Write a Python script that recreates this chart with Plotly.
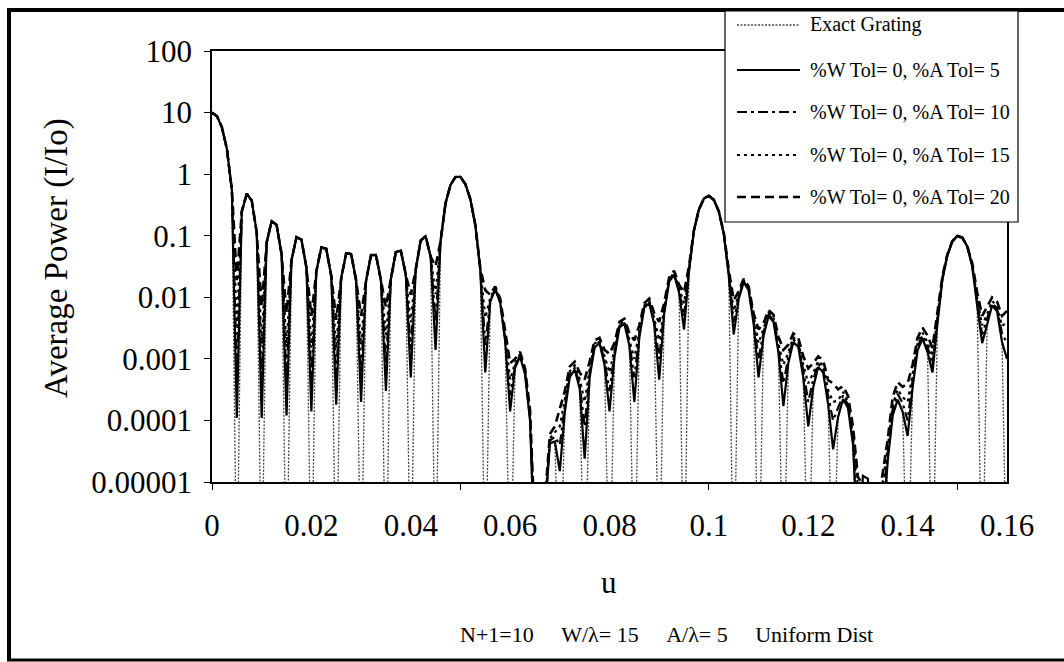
import plotly.graph_objects as go

# categories: u sampled every 0.001 from 0 to 0.16 (161 samples)
u = [round(i * 0.001, 3) for i in range(161)]

# values (values at exact nulls sit below the axis floor)
exact = [
    10, 8.76, 5.74, 2.56, 0.552, 1e-7,
    0.248, 0.481, 0.372, 0.113, 1e-7,
    0.0777, 0.173, 0.150, 0.0502, 1e-7,
    0.0400, 0.0947, 0.0864, 0.0304, 1e-7,
    0.0263, 0.0646, 0.0611, 0.0222, 1e-7,
    0.0205, 0.0519, 0.0505, 0.0189, 1e-7,
    0.0185, 0.0484, 0.0487, 0.0189, 1e-7,
    0.0199, 0.0543, 0.0573, 0.0234, 1e-7,
    0.0282, 0.0838, 0.0980, 0.0456, 1e-7,
    0.0813, 0.336, 0.668, 0.899, 0.901,
    0.687, 0.390, 0.149, 0.0273, 1e-7,
    0.00850, 0.0134, 0.00823, 0.00194, 1e-7,
    7.17e-4, 1.08e-3, 5.71e-4, 1.01e-4, 1e-7,
    4.94e-6, 2.92e-6, 4.24e-5, 4.55e-5, 1e-7,
    1.35e-4, 5.04e-4, 6.71e-4, 3.27e-4, 1e-7,
    4.90e-4, 1.53e-3, 1.80e-3, 8.01e-4, 1e-7,
    1.07e-3, 3.24e-3, 3.73e-3, 1.64e-3, 1e-7,
    2.21e-3, 6.78e-3, 8.00e-3, 3.65e-3, 1e-7,
    5.43e-3, 0.0179, 0.0233, 0.0120, 1e-7,
    0.0263, 0.121, 0.268, 0.402, 0.450,
    0.386, 0.247, 0.107, 0.0224, 1e-7,
    9.43e-3, 0.0176, 0.0130, 3.79e-3, 1e-7,
    2.35e-3, 4.94e-3, 4.02e-3, 1.26e-3, 1e-7,
    8.62e-4, 1.88e-3, 1.56e-3, 4.97e-4, 1e-7,
    3.42e-4, 7.35e-4, 5.99e-4, 1.84e-4, 1e-7,
    1.13e-4, 2.22e-4, 1.59e-4, 4.10e-5, 1e-7,
    1.26e-5, 1.13e-5, 7.4e-7, 1.2e-6, 1e-7,
    2.23e-5, 1.21e-4, 2.17e-4, 1.38e-4, 1e-7,
    3.40e-4, 1.37e-3, 2.13e-3, 1.29e-3, 1e-7,
    3.73e-3, 0.0194, 0.0481, 0.0805, 0.100,
    0.0947, 0.0666, 0.0317, 7.26e-3, 1e-7,
    3.62e-3, 7.35e-3, 5.92e-3, 1.88e-3, 1e-7,
]

tol5 = [
    10, 8.76, 5.74, 2.56, 0.552, 1.1e-4,
    0.248, 0.481, 0.372, 0.113, 1.1e-4,
    0.0777, 0.173, 0.150, 0.0502, 1.2e-4,
    0.0400, 0.0947, 0.0864, 0.0304, 1.4e-4,
    0.0263, 0.0646, 0.0611, 0.0222, 1.8e-4,
    0.0205, 0.0519, 0.0505, 0.0189, 2.0e-4,
    0.0185, 0.0484, 0.0487, 0.0189, 3.0e-4,
    0.0199, 0.0543, 0.0573, 0.0234, 5.0e-4,
    0.0282, 0.0838, 0.0980, 0.0456, 1.4e-3,
    0.0813, 0.336, 0.668, 0.899, 0.901,
    0.687, 0.390, 0.149, 0.0273, 6.0e-4,
    0.00850, 0.0134, 0.00823, 0.00194, 1.4e-4,
    7.17e-4, 1.08e-3, 5.71e-4, 1.01e-4, 5e-7,
    4.94e-6, 2.92e-6, 4.24e-5, 4.55e-5, 1.5e-5,
    1.35e-4, 5.04e-4, 6.71e-4, 3.27e-4, 2.4e-5,
    4.90e-4, 1.53e-3, 1.80e-3, 8.01e-4, 1.4e-4,
    1.07e-3, 3.24e-3, 3.73e-3, 1.64e-3, 2.0e-4,
    2.21e-3, 6.78e-3, 8.00e-3, 3.65e-3, 4.6e-4,
    5.43e-3, 0.0179, 0.0233, 0.0120, 3.0e-3,
    0.0263, 0.121, 0.268, 0.402, 0.450,
    0.386, 0.247, 0.107, 0.0224, 2.5e-3,
    9.43e-3, 0.0176, 0.0130, 3.79e-3, 5.0e-4,
    2.35e-3, 4.94e-3, 4.02e-3, 1.26e-3, 1.7e-4,
    8.62e-4, 1.88e-3, 1.56e-3, 4.97e-4, 8.0e-5,
    3.42e-4, 7.35e-4, 5.99e-4, 1.84e-4, 3.4e-5,
    1.13e-4, 2.22e-4, 1.59e-4, 4.10e-5, 1.0e-6,
    1.26e-5, 1.13e-5, 7.4e-7, 1.2e-6, 2.0e-6,
    2.23e-5, 1.21e-4, 2.17e-4, 1.38e-4, 5.6e-5,
    3.40e-4, 1.37e-3, 2.13e-3, 1.29e-3, 6.0e-4,
    3.73e-3, 0.0194, 0.0481, 0.0805, 0.100,
    0.0947, 0.0666, 0.0317, 7.26e-3, 1.8e-3,
    3.62e-3, 7.35e-3, 5.92e-3, 1.88e-3, 1.0e-3,
]

tol10 = [
    10, 8.76, 5.74, 2.56, 0.552, 6.1e-4,
    0.248, 0.481, 0.372, 0.113, 4.4e-4,
    0.0777, 0.173, 0.150, 0.0502, 4.3e-4,
    0.0400, 0.0947, 0.0864, 0.0304, 4.6e-4,
    0.0263, 0.0646, 0.0611, 0.0222, 5.2e-4,
    0.0205, 0.0519, 0.0505, 0.0189, 5.8e-4,
    0.0185, 0.0484, 0.0487, 0.0189, 8.6e-4,
    0.0199, 0.0543, 0.0573, 0.0234, 1.4e-3,
    0.0282, 0.0838, 0.0980, 0.0456, 4.0e-3,
    0.0813, 0.336, 0.668, 0.899, 0.901,
    0.687, 0.390, 0.149, 0.0280, 1.67e-3,
    0.00910, 0.0138, 0.00850, 0.00210, 2.55e-4,
    7.8e-4, 1.13e-3, 6.0e-4, 1.1e-4, 1.0e-6,
    5.2e-6, 3.5e-6, 4.7e-5, 5.4e-5, 4.0e-5,
    1.7e-4, 5.6e-4, 7.2e-4, 3.9e-4, 8.0e-5,
    5.8e-4, 1.64e-3, 1.90e-3, 9.5e-4, 3.0e-4,
    1.25e-3, 3.43e-3, 3.92e-3, 1.88e-3, 5.0e-4,
    2.54e-3, 7.1e-3, 8.4e-3, 4.1e-3, 1.0e-3,
    6.1e-3, 0.0187, 0.0242, 0.0130, 5.0e-3,
    0.0278, 0.122, 0.268, 0.401, 0.447,
    0.384, 0.248, 0.108, 0.0238, 4.0e-3,
    0.0102, 0.0182, 0.0135, 4.2e-3, 1.0e-3,
    2.7e-3, 5.25e-3, 4.3e-3, 1.52e-3, 4.0e-4,
    1.07e-3, 2.06e-3, 1.72e-3, 6.5e-4, 2.0e-4,
    4.6e-4, 8.3e-4, 6.9e-4, 2.5e-4, 1.0e-4,
    1.6e-4, 2.55e-4, 1.8e-4, 5.0e-5, 3.0e-6,
    1.0e-5, 8.0e-6, 7.6e-7, 2.0e-6, 5.0e-6,
    2.9e-5, 1.5e-4, 2.7e-4, 1.9e-4, 1.0e-4,
    4.5e-4, 1.57e-3, 2.4e-3, 1.57e-3, 8.0e-4,
    4.2e-3, 0.0200, 0.0486, 0.0808, 0.0995,
    0.0940, 0.0670, 0.0328, 8.4e-3, 2.5e-3,
    4.5e-3, 8.0e-3, 6.6e-3, 2.6e-3, 1.8e-3,
]

tol15 = [
    10, 8.76, 5.74, 2.56, 0.552, 3.4e-3,
    0.248, 0.481, 0.372, 0.113, 1.75e-3,
    0.0777, 0.173, 0.150, 0.0502, 1.56e-3,
    0.0400, 0.0947, 0.0864, 0.0304, 1.52e-3,
    0.0263, 0.0646, 0.0611, 0.0222, 1.49e-3,
    0.0205, 0.0519, 0.0505, 0.0189, 1.7e-3,
    0.0185, 0.0484, 0.0487, 0.0189, 2.45e-3,
    0.0199, 0.0543, 0.0573, 0.0234, 3.9e-3,
    0.0282, 0.0838, 0.0980, 0.0456, 1.13e-2,
    0.0813, 0.336, 0.668, 0.899, 0.901,
    0.687, 0.390, 0.149, 0.0287, 4.66e-3,
    0.00975, 0.0142, 0.00887, 0.00227, 4.6e-4,
    8.6e-4, 1.19e-3, 6.4e-4, 1.26e-4, 1.2e-6,
    5.5e-6, 4.0e-6, 5.1e-5, 6.3e-5, 8.0e-5,
    2.2e-4, 6.3e-4, 7.8e-4, 4.7e-4, 2.0e-4,
    6.9e-4, 1.77e-3, 2.0e-3, 1.1e-3, 6.0e-4,
    1.43e-3, 3.62e-3, 4.12e-3, 2.12e-3, 1.0e-3,
    2.86e-3, 7.4e-3, 8.75e-3, 4.58e-3, 2.0e-3,
    6.7e-3, 0.0194, 0.0252, 0.0140, 8.0e-3,
    0.0292, 0.123, 0.268, 0.401, 0.445,
    0.383, 0.248, 0.1095, 0.0252, 6.0e-3,
    0.0110, 0.0188, 0.0140, 4.65e-3, 1.8e-3,
    3.08e-3, 5.57e-3, 4.61e-3, 1.78e-3, 8.0e-4,
    1.28e-3, 2.24e-3, 1.88e-3, 8.0e-4, 4.0e-4,
    5.9e-4, 9.2e-4, 7.8e-4, 3.1e-4, 2.0e-4,
    2.1e-4, 2.9e-4, 2.0e-4, 6.0e-5, 8.0e-6,
    7.0e-6, 4.0e-6, 8.0e-7, 3.0e-6, 1.0e-5,
    3.6e-5, 1.8e-4, 3.2e-4, 2.4e-4, 2.0e-4,
    5.7e-4, 1.78e-3, 2.66e-3, 1.85e-3, 1.1e-3,
    4.6e-3, 0.0207, 0.0490, 0.0812, 0.0990,
    0.0933, 0.0673, 0.0338, 9.6e-3, 3.5e-3,
    5.3e-3, 8.7e-3, 7.2e-3, 3.4e-3, 4.0e-3,
]

tol20 = [
    10, 8.76, 5.74, 2.56, 0.552, 0.019,
    0.248, 0.481, 0.372, 0.113, 7.0e-3,
    0.0777, 0.173, 0.150, 0.0502, 5.6e-3,
    0.0400, 0.0947, 0.0864, 0.0304, 5.0e-3,
    0.0263, 0.0646, 0.0611, 0.0222, 4.3e-3,
    0.0205, 0.0519, 0.0505, 0.0189, 5.0e-3,
    0.0185, 0.0484, 0.0487, 0.0189, 7.0e-3,
    0.0199, 0.0543, 0.0573, 0.0234, 0.011,
    0.0282, 0.0838, 0.0980, 0.0456, 0.032,
    0.0813, 0.336, 0.668, 0.899, 0.901,
    0.687, 0.390, 0.149, 0.0300, 0.013,
    0.0110, 0.0150, 0.0095, 0.0026, 8.5e-4,
    1.0e-3, 1.3e-3, 7.0e-4, 1.5e-4, 1.5e-6,
    6.0e-6, 5.0e-6, 6.0e-5, 8.0e-5, 1.6e-4,
    3.0e-4, 7.5e-4, 9.0e-4, 6.0e-4, 4.6e-4,
    9.0e-4, 2.0e-3, 2.2e-3, 1.4e-3, 1.2e-3,
    1.8e-3, 4.0e-3, 4.5e-3, 2.6e-3, 2.0e-3,
    3.5e-3, 8.0e-3, 9.5e-3, 5.5e-3, 4.0e-3,
    8.0e-3, 0.021, 0.027, 0.016, 0.012,
    0.032, 0.125, 0.268, 0.400, 0.440,
    0.380, 0.250, 0.112, 0.028, 9.0e-3,
    0.0125, 0.020, 0.015, 5.5e-3, 3.0e-3,
    3.8e-3, 6.2e-3, 5.2e-3, 2.3e-3, 1.4e-3,
    1.7e-3, 2.6e-3, 2.2e-3, 1.1e-3, 7.0e-4,
    8.5e-4, 1.1e-3, 9.5e-4, 4.5e-4, 4.0e-4,
    3.2e-4, 3.6e-4, 2.5e-4, 8.0e-5, 1.2e-5,
    9.0e-6, 5.0e-6, 1.0e-6, 4.0e-6, 1.5e-5,
    5.0e-5, 2.4e-4, 4.2e-4, 3.5e-4, 4.0e-4,
    8.0e-4, 2.2e-3, 3.2e-3, 2.4e-3, 1.5e-3,
    5.5e-3, 0.022, 0.050, 0.082, 0.098,
    0.092, 0.068, 0.036, 0.012, 5.0e-3,
    7.0e-3, 0.010, 8.5e-3, 5.0e-3, 6.0e-3,
]

series_names = [
    "Exact Grating",
    "%W Tol= 0, %A Tol= 5",
    "%W Tol= 0, %A Tol= 10",
    "%W Tol= 0, %A Tol= 15",
    "%W Tol= 0, %A Tol= 20",
]
series_values = [exact, tol5, tol10, tol15, tol20]
series_styles = [
    dict(color="#444444", width=1.3, dash="2px,1.5px"),
    dict(color="black", width=2.2, dash="solid"),
    dict(color="black", width=2.2, dash="10px,4px,3px,4px"),
    dict(color="black", width=2.2, dash="3px,4px"),
    dict(color="black", width=2.6, dash="9px,5px"),
]

x_label_vals = [0, 0.02, 0.04, 0.06, 0.08, 0.1, 0.12, 0.14, 0.16]
x_label_text = ["0", "0.02", "0.04", "0.06", "0.08", "0.1", "0.12", "0.14", "0.16"]
x_tick_marks = [0, 0.05, 0.1, 0.15]
y_tick_vals = [1e-5, 1e-4, 1e-3, 1e-2, 1e-1, 1, 10, 100]
y_tick_text = ["0.00001", "0.0001", "0.001", "0.01", "0.1", "1", "10", "100"]

FONT = "Liberation Serif, Times New Roman, serif"

fig = go.Figure()
for i, (name, vals, st) in enumerate(zip(series_names, series_values, series_styles)):
    fig.add_trace(go.Scatter(
        x=u, y=vals, mode="lines", name=name, line=st,
        showlegend=False, hoverinfo="skip",
    ))

# helper trace so the label axis (x2) is created
fig.add_trace(go.Scatter(x=[], y=[], xaxis="x2", yaxis="y", showlegend=False, hoverinfo="skip"))

L, R, T, B = 212, 57, 51, 180
W, H = 1064, 662
pw, ph = W - L - R, H - T - B


def px_x(p):
    return (p - L) / pw


def px_y(p):
    return (H - B - p) / ph


annotations = [
    dict(text="Average Power (I/Io)", x=px_x(56), y=px_y(258), textangle=-90,
         font=dict(size=33, family=FONT, color="black")),
    dict(text="u", x=px_x(609), y=px_y(582),
         font=dict(size=31, family=FONT, color="black")),
    dict(text="N+1=10\u00a0\u00a0\u00a0\u00a0\u00a0W/\u03bb= 15\u00a0\u00a0\u00a0\u00a0\u00a0A/\u03bb= 5\u00a0\u00a0\u00a0\u00a0\u00a0Uniform Dist",
         x=px_x(666), y=px_y(634),
         font=dict(size=22, family=FONT, color="black")),
]
for a in annotations:
    a.update(xref="paper", yref="paper", showarrow=False, xanchor="center", yanchor="middle")

shapes = [
    # outer frame (left, top, bottom)
    dict(type="line", x0=px_x(9), x1=px_x(9), y0=px_y(10), y1=px_y(660), line=dict(color="black", width=4)),
    dict(type="line", x0=px_x(7), x1=px_x(1070), y0=px_y(10), y1=px_y(10), line=dict(color="black", width=4)),
    dict(type="line", x0=px_x(7), x1=px_x(1070), y0=px_y(660), y1=px_y(660), line=dict(color="black", width=3)),
    # legend box
    dict(type="rect", x0=px_x(725), x1=px_x(1018), y0=px_y(222), y1=px_y(11),
         line=dict(color="black", width=1.2), fillcolor="white", layer="above"),
]

# legend: one sample line + label per series
legend_rows = [25, 70, 112, 155, 197]
for name, st, ry in zip(series_names, series_styles, legend_rows):
    shapes.append(dict(type="line", x0=px_x(737), x1=px_x(800), y0=px_y(ry), y1=px_y(ry),
                       line=dict(color=st["color"], width=st["width"], dash=st["dash"])))
    annotations.append(dict(text=name, x=px_x(808), y=px_y(ry), xref="paper", yref="paper",
                            xanchor="left", yanchor="middle", showarrow=False,
                            font=dict(size=20, family=FONT, color="black")))

for s in shapes:
    s.update(xref="paper", yref="paper")
    s.setdefault("layer", "above")

fig.update_layout(
    width=W, height=H,
    margin=dict(l=L, r=R, t=T, b=B, pad=0),
    paper_bgcolor="white", plot_bgcolor="white",
    font=dict(family=FONT, color="black"),
    showlegend=False,
    xaxis=dict(
        range=[0, 0.16], tickmode="array", tickvals=x_tick_marks,
        showticklabels=False, ticks="outside", ticklen=6, tickwidth=1.3, tickcolor="black",
        showline=True, linecolor="black", linewidth=1.5, mirror=True,
        showgrid=False, zeroline=False,
    ),
    xaxis2=dict(
        range=[0, 0.16], overlaying="x", anchor="y", side="bottom",
        tickmode="array", tickvals=x_label_vals, ticktext=x_label_text,
        ticks="", showline=False, showgrid=False, zeroline=False,
        tickfont=dict(size=31, family=FONT, color="black"),
        ticklabelstandoff=22,
    ),
    yaxis=dict(
        type="log", range=[-5, 2], tickmode="array",
        tickvals=y_tick_vals, ticktext=y_tick_text,
        ticks="outside", ticklen=6, tickwidth=1.3, tickcolor="black",
        showline=True, linecolor="black", linewidth=1.5, mirror=True,
        showgrid=False, zeroline=False,
        tickfont=dict(size=31, family=FONT, color="black"),
        ticklabelstandoff=6,
    ),
    annotations=annotations,
    shapes=shapes,
)

fig.write_html("out.html")
